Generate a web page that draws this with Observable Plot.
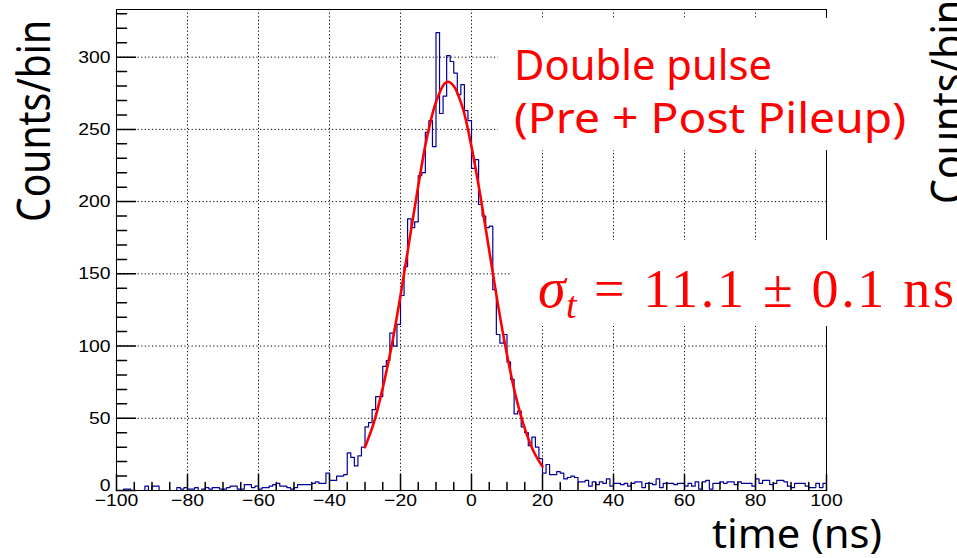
<!DOCTYPE html>
<html><head><meta charset="utf-8">
<script src="https://cdn.jsdelivr.net/npm/d3@7"></script>
<script src="https://cdn.jsdelivr.net/npm/@observablehq/plot@0.6"></script>
<style>
html,body{margin:0;padding:0;background:#fff;}
#chart{width:957px;height:558px;overflow:hidden;}
</style></head><body><div id="chart"></div>
<script>
// Histogram: 200 bins of 1 ns from -100 ns to 100 ns (counts per bin)
const binLow = -100;
const binWidth = 1;
const counts = [
  0,0,1,1,0,0,0,0,3,0,            // -100 .. -91
  3,3,0,0,0,0,0,2,1,2,            // -90 .. -81
  1,1,2,0,1,2,1,2,2,1,            // -80 .. -71
  1,2,3,3,1,1,4,4,2,3,            // -70 .. -61
  1,2,2,3,4,5,3,3,2,1,            // -60 .. -51
  2,4,4,4,4,5,6,5,5,12,           // -50 .. -41
  7,7,10,10,11,26,23,17,24,30,    // -40 .. -31
  44,47,56,65,65,86,90,109,100,115, // -30 .. -21
  135,155,188,182,186,218,220,248,256,238, // -20 .. -11
  317,261,273,301,297,289,274,281,263,256, // -10 .. -1
  223,229,198,190,182,183,139,108,102,108, // 0 .. 9
  89,77,53,55,44,40,31,37,30,22,  // 10 .. 19
  12,18,11,11,13,12,8,9,10,9,     // 20 .. 29
  6,6,7,3,6,4,6,5,8,3,            // 30 .. 39
  5,5,4,5,3,5,6,6,2,5,            // 40 .. 49
  5,4,8,2,5,5,5,4,5,5,            // 50 .. 59
  3,5,3,6,1,6,7,1,5,5,            // 60 .. 69
  6,5,6,6,4,6,5,5,5,3,            // 70 .. 79
  8,5,7,7,4,5,7,7,6,3,            // 80 .. 89
  2,5,5,5,3,2,2,5,2,5             // 90 .. 99
];
// Gaussian fit curve
const fitTime  = [-30,-27.5,-25,-22.5,-20,-17.5,-15,-12.5,-10,-7.5,-6.5,-5,-2.5,0,2.5,5,7.5,10,12.5,15,17.5,20];
const fitValue = [30,47,71,100,135,173,211,245,269,282,283,280,265,238,204,166,128,94,65,43,27,16.5];

const xMajorTicks = [-100,-80,-60,-40,-20,0,20,40,60,80,100];
const xMinorTicks = [-95,-90,-85,-75,-70,-65,-55,-50,-45,-35,-30,-25,-15,-10,-5,5,10,15,25,30,35,45,50,55,65,70,75,85,90,95];
const yMajorTicks = [0,50,100,150,200,250,300];
const yMinorTicks = [10,20,30,40,60,70,80,90,110,120,130,140,160,170,180,190,210,220,230,240,260,270,280,290,310,320,330];
const xGrid = [-80,-60,-40,-20,0,20,40,60,80];
const yGrid = [50,100,150,200,250,300];

const hist = counts.map((c, i) => ({t: binLow + i * binWidth, c}));
hist.push({t: binLow + counts.length * binWidth, c: counts[counts.length - 1]});
const fit = fitTime.map((t, i) => ({t, v: fitValue[i]}));

const tickShape = {draw(ctx, l) { ctx.moveTo(0, 0); ctx.lineTo(0, -l); }};
const dots = "1.2,2.4";

const svg = Plot.plot({
  width: 957, height: 558,
  marginLeft: 116, marginRight: 131, marginTop: 9, marginBottom: 68,
  style: {fontFamily: "'Liberation Sans', Arial, sans-serif", fontSize: "17px", color: "#000", background: "#fff"},
  x: {domain: [-100, 100]},
  y: {domain: [0, 333]},
  marks: [
    Plot.ruleX(xGrid, {stroke: "#000", strokeDasharray: dots, strokeWidth: 1}),
    Plot.ruleY(yGrid, {stroke: "#000", strokeDasharray: dots, strokeWidth: 1}),
    Plot.line(hist, {x: "t", y: "c", curve: "step-after", stroke: "#000099", strokeWidth: 1.2}),
    Plot.line(fit, {x: "t", y: "v", curve: "catmull-rom", stroke: "#ff0000", strokeWidth: 2.6}),
    Plot.vector(xMajorTicks, {x: d => d, frameAnchor: "bottom", length: 16, rotate: 0, anchor: "start", shape: tickShape, stroke: "#000"}),
    Plot.vector(xMinorTicks, {x: d => d, frameAnchor: "bottom", length: 8, rotate: 0, anchor: "start", shape: tickShape, stroke: "#000"}),
    Plot.vector(yMajorTicks, {y: d => d, frameAnchor: "left", length: 19, rotate: 90, anchor: "start", shape: tickShape, stroke: "#000"}),
    Plot.vector(yMinorTicks, {y: d => d, frameAnchor: "left", length: 10, rotate: 90, anchor: "start", shape: tickShape, stroke: "#000"}),
    Plot.frame({stroke: "#000", strokeWidth: 1}),
    Plot.axisX(xMajorTicks, {tickSize: 0, tickPadding: 3, label: null}),
    Plot.axisY(yMajorTicks.filter(d => d > 0), {tickSize: 0, tickPadding: 6, label: null}),
    Plot.axisY([0], {tickSize: 0, tickPadding: 6, label: null, dy: -5})
  ]
});

const s = d3.select(svg);
// ROOT tick labels are a little wider than plain Helvetica
s.selectAll("g[aria-label='x-axis tick label'] text, g[aria-label='y-axis tick label'] text")
  .attr("transform", function () { return (this.getAttribute("transform") || "") + " scale(1.14,1)"; });

// white text boxes of the slide annotations
s.append("rect").attr("x", 498).attr("y", 18).attr("width", 459).attr("height", 132).attr("fill", "#fff");
s.append("rect").attr("x", 512).attr("y", 240).attr("width", 445).attr("height", 86).attr("fill", "#fff");

const sans = "'Noto Sans', 'Open Sans', sans-serif";
const serif = "'Liberation Serif', 'DejaVu Serif', serif";
function txt() { return s.append("text").attr("text-anchor", "start"); }

txt().attr("x", 514).attr("y", 80).attr("fill", "#ff0000")
  .attr("font-family", sans).attr("font-size", 41).attr("textLength", 258).attr("lengthAdjust", "spacingAndGlyphs")
  .text("Double pulse");
txt().attr("x", 514).attr("y", 133).attr("fill", "#ff0000")
  .attr("font-family", sans).attr("font-size", 41).attr("textLength", 392).attr("lengthAdjust", "spacingAndGlyphs")
  .text("(Pre + Post Pileup)");

txt().attr("x", 538).attr("y", 307).attr("fill", "#ff0000")
  .attr("font-family", serif).attr("font-style", "italic").attr("font-size", 56).text("σ");
txt().attr("x", 566).attr("y", 318).attr("fill", "#ff0000")
  .attr("font-family", serif).attr("font-style", "italic").attr("font-size", 38).text("t");
txt().attr("x", 594).attr("y", 307).attr("fill", "#ff0000")
  .attr("font-family", serif).attr("font-size", 54).attr("textLength", 360).attr("lengthAdjust", "spacing")
  .text("= 11.1 ± 0.1 ns");

// axis titles
s.append("text").attr("transform", "translate(50,121) rotate(-90) scale(1,1.15)")
  .attr("text-anchor", "middle").attr("font-family", sans).attr("font-size", 40)
  .attr("textLength", 202).attr("lengthAdjust", "spacingAndGlyphs").attr("fill", "#000").text("Counts/bin");
txt().attr("x", 712).attr("y", 548)
  .attr("font-family", sans).attr("font-size", 40)
  .attr("textLength", 170).attr("lengthAdjust", "spacingAndGlyphs").attr("fill", "#000").text("time (ns)");
// neighbouring panel's axis title, cut by the right edge
s.append("text").attr("transform", "translate(964,102) rotate(-90) scale(1,1.15)")
  .attr("text-anchor", "middle").attr("font-family", sans).attr("font-size", 40)
  .attr("textLength", 204).attr("lengthAdjust", "spacingAndGlyphs").attr("fill", "#000").text("Counts/bin");

document.getElementById("chart").appendChild(svg);
</script>
</body></html>
